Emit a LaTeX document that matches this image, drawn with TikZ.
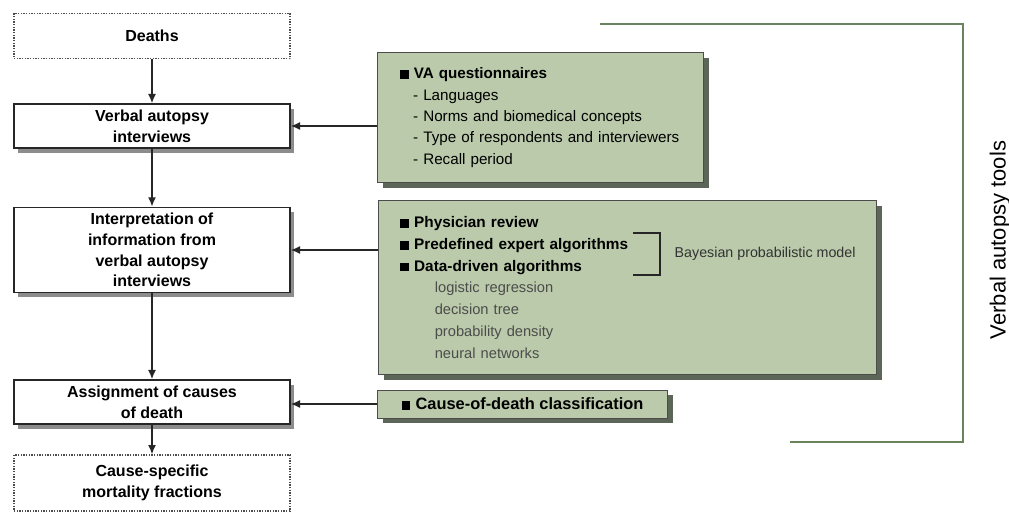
\documentclass[tikz,border=0pt]{standalone}
\usepackage{fontspec}
\setmainfont{Liberation Sans}
\usepackage{tikz}
\usetikzlibrary{positioning,arrows.meta,shadows}
\usepackage{xcolor}
\definecolor{sage}{RGB}{186,202,170}
\definecolor{sageline}{RGB}{105,132,92}
\definecolor{sageshadow}{RGB}{92,102,88}
\newcommand{\sqbullet}{\rule{6.5pt}{6.5pt}\hspace{4pt}}

\begin{document}
\begin{tikzpicture}[x=0.75pt, y=-0.75pt,
    every node/.style={font=\fontsize{11}{16}\selectfont, align=center},
    stepBox/.style={rectangle, draw=black!85, line width=1.1pt, fill=white, minimum width=207pt, font=\fontsize{12}{15.5}\selectfont\bfseries, drop shadow={shadow xshift=3pt, shadow yshift=-3.5pt, fill=black!45, opacity=1}},
    endBox/.style={rectangle, draw=black!70, densely dotted, line width=1pt, fill=white, minimum width=207pt, font=\fontsize{12}{15.5}\selectfont\bfseries},
    toolBox/.style={rectangle, draw=black!70, line width=0.6pt, fill=sage, align=left, drop shadow={shadow xshift=4pt, shadow yshift=-4pt, fill=sageshadow, opacity=1}},
    depLine/.style={draw=black!85, -{Latex[length=7pt,width=6pt]}, line width=1.1pt}
]
    \useasboundingbox (0,0) rectangle (1009,512);

    % main chain
    \node [endBox, minimum height=34pt] (deaths) at (152, 36) {Deaths};
    \node [stepBox, minimum height=33pt] (vai) at (152, 126) {Verbal autopsy\\interviews};
    \node [stepBox, minimum height=64pt] (interp) at (152, 250) {Interpretation of\\information from\\verbal autopsy\\interviews};
    \node [stepBox, minimum height=33pt] (assign) at (152, 402) {Assignment of causes\\of death};
    \node [endBox, minimum height=42pt] (csmf) at (152, 483) {Cause-specific\\mortality fractions};

    % tools
    \node [toolBox, minimum width=244pt, minimum height=97pt, text width=211pt, font=\fontsize{11.4}{16}\selectfont] (vaq) at (540.5, 117.5)
        {\textbf{\sqbullet VA questionnaires}\\
         \hspace*{10pt}- Languages\\
         \hspace*{10pt}- Norms and biomedical concepts\\
         \hspace*{10pt}- Type of respondents and interviewers\\
         \hspace*{10pt}- Recall period};
    \node [toolBox, minimum width=374pt, minimum height=131pt, text width=341pt, font=\fontsize{11.5}{16.3}\selectfont] (phys) at (627.5, 287.5)
        {\textbf{\sqbullet Physician review}\\
         \textbf{\sqbullet Predefined expert algorithms}\\
         \textbf{\sqbullet Data-driven algorithms}\\
         \hspace*{26pt}{\fontsize{11}{16.3}\selectfont\color{black!70}logistic regression}\\
         \hspace*{26pt}{\fontsize{11}{16.3}\selectfont\color{black!70}decision tree}\\
         \hspace*{26pt}{\fontsize{11}{16.3}\selectfont\color{black!70}probability density}\\
         \hspace*{26pt}{\fontsize{11}{16.3}\selectfont\color{black!70}neural networks}};
    \node [toolBox, minimum width=217pt, minimum height=21pt, align=center, font=\fontsize{12.3}{14}\selectfont\bfseries] (cod) at (522.5, 404) {\sqbullet Cause-of-death classification};

    \draw [black!85, line width=0.9pt] (633,233) -- (660,233) -- (660,275) -- (633,275);
    \node [anchor=west, text=black!80, font=\fontsize{10.7}{13}\selectfont] (bayes) at (670, 254) {Bayesian probabilistic model};

    % tools frame
    \draw [sageline, line width=1.4pt] (600,24) -- (963,24) -- (963,442) -- (790,442);
    \node [rotate=90, font=\fontsize{16.5}{18}\selectfont] (vatools) at (1000, 240) {Verbal autopsy tools};

    \path [depLine] (deaths) -- (vai);
    \path [depLine] (vai) -- (interp);
    \path [depLine] (interp) -- (assign);
    \path [depLine] (assign) -- (csmf);

    \path [depLine] (vaq.west |- vai) -- (vai);
    \path [depLine] (phys.west |- interp) -- (interp);
    \path [depLine] (cod.west) -- (assign.east |- cod.west);
\end{tikzpicture}
\end{document}
